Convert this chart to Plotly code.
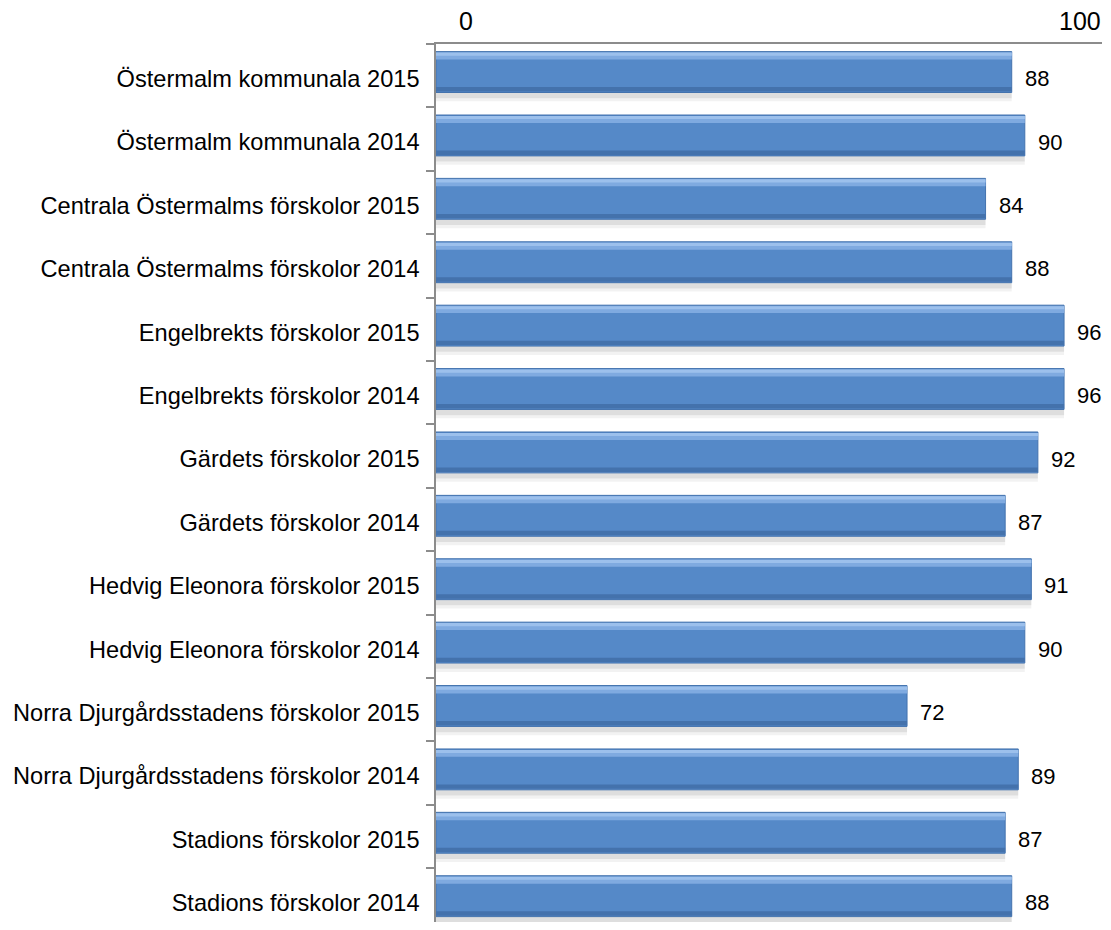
import plotly.graph_objects as go

categories = [
    "Östermalm kommunala 2015",
    "Östermalm kommunala 2014",
    "Centrala Östermalms förskolor 2015",
    "Centrala Östermalms förskolor 2014",
    "Engelbrekts förskolor 2015",
    "Engelbrekts förskolor 2014",
    "Gärdets förskolor 2015",
    "Gärdets förskolor 2014",
    "Hedvig Eleonora förskolor 2015",
    "Hedvig Eleonora förskolor 2014",
    "Norra Djurgårdsstadens förskolor 2015",
    "Norra Djurgårdsstadens förskolor 2014",
    "Stadions förskolor 2015",
    "Stadions förskolor 2014",
]
values = [88, 90, 84, 88, 96, 96, 92, 87, 91, 90, 72, 89, 87, 88]
tick_values = [0, 100]
tick_labels = ["0", "100"]

FONT = "Liberation Sans, Arial, sans-serif"
BAR_W = 0.645
BAR_OFF = -0.38

fig = go.Figure()

# soft shadow under each bar
fig.add_trace(go.Bar(
    x=values, y=categories, orientation="h",
    width=0.09, offset=BAR_OFF + BAR_W,
    marker=dict(color="rgba(0,0,0,0.13)", line=dict(width=0)),
    hoverinfo="skip", showlegend=False,
))
fig.add_trace(go.Bar(
    x=values, y=categories, orientation="h",
    width=0.05, offset=BAR_OFF + BAR_W + 0.09,
    marker=dict(color="rgba(0,0,0,0.05)", line=dict(width=0)),
    hoverinfo="skip", showlegend=False,
))
# main bar body
fig.add_trace(go.Bar(
    x=values, y=categories, orientation="h",
    width=BAR_W, offset=BAR_OFF,
    marker=dict(color="#5589C8", line=dict(color="#4473AE", width=1)),
    showlegend=False,
))
# top highlight
fig.add_trace(go.Bar(
    x=values, y=categories, orientation="h",
    width=0.11, offset=BAR_OFF + 0.015,
    marker=dict(color="#7FAAE0", line=dict(width=0)),
    hoverinfo="skip", showlegend=False,
))
fig.add_trace(go.Bar(
    x=values, y=categories, orientation="h",
    width=0.05, offset=BAR_OFF + 0.015,
    marker=dict(color="#9CC0EC", line=dict(width=0)),
    hoverinfo="skip", showlegend=False,
))
# bottom darker edge
fig.add_trace(go.Bar(
    x=values, y=categories, orientation="h",
    width=0.07, offset=BAR_OFF + BAR_W - 0.085,
    marker=dict(color="#4472AC", line=dict(width=0)),
    hoverinfo="skip", showlegend=False,
))

annotations = []
for c, v in zip(categories, values):
    annotations.append(dict(
        x=v, y=c, xref="x", yref="y", text=str(v),
        showarrow=False, xanchor="left", yanchor="middle",
        xshift=11, yshift=-3,
        font=dict(family=FONT, size=22, color="#000000"),
    ))

# top axis tick labels (first one nudged inside, last one kept inside the page)
label_shift = {0: 30, len(tick_values) - 1: -10}
for i, (tv, tl) in enumerate(zip(tick_values, tick_labels)):
    annotations.append(dict(
        x=tv, y=1, xref="x", yref="paper", text=tl,
        showarrow=False, xanchor="center", yanchor="bottom",
        xshift=label_shift.get(i, 0), yshift=7,
        font=dict(family=FONT, size=25, color="#000000"),
    ))

# the page body adds an 8px margin, so the figure is shrunk to avoid scrollbars
fig.update_layout(
    width=1103, height=914,
    margin=dict(l=428, r=9, t=36, b=0),
    paper_bgcolor="white", plot_bgcolor="white",
    barmode="overlay",
    showlegend=False,
    annotations=annotations,
    xaxis=dict(
        side="top", range=[0, 101.8],
        tickvals=tick_values, ticktext=tick_labels, showticklabels=False,
        showgrid=False, zeroline=False, automargin=False,
        showline=True, linecolor="#8C8C8C", linewidth=1.5,
        ticks="",
    ),
    yaxis=dict(
        type="category", categoryorder="array", categoryarray=categories,
        range=[13.35, -0.5], automargin=False,
        showgrid=False, zeroline=False,
        showline=True, linecolor="#8C8C8C", linewidth=1.5,
        ticks="outside", ticklen=8, tickcolor="#8C8C8C", tickwidth=1.5,
        tickson="boundaries", ticklabelstandoff=10, ticklabelshift=-3,
        tickfont=dict(family=FONT, size=23.6, color="#000000"),
    ),
)

fig.write_html("out.html")
